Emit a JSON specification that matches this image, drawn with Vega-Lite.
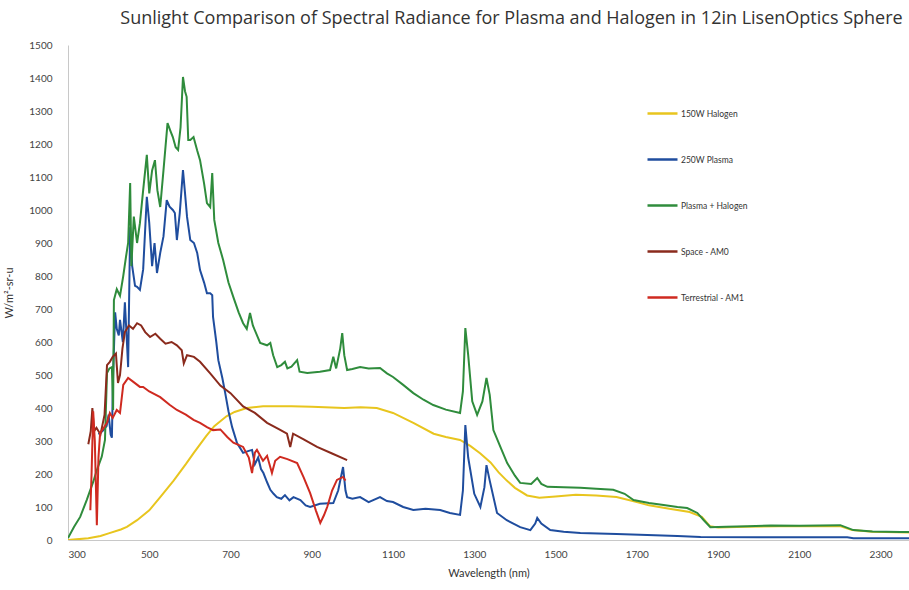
{
  "$schema": "https://vega.github.io/schema/vega-lite/v6.json",
  "width": 841,
  "height": 495,
  "autosize": "none",
  "padding": {"left": 68, "top": 45, "right": 0, "bottom": 50},
  "background": "white",
  "config": {"view": {"stroke": null}, "font": "Lato"},
  "title": {"text": "Sunlight Comparison  of Spectral Radiance for Plasma and Halogen in 12in LisenOptics Sphere", "fontSize": 18, "fontWeight": "normal", "color": "#333333", "font": "Open Sans", "dx": 23, "offset": 12},
  "data": {"values": [
        {"s":"150W Halogen","w":300,"v":0},{"s":"150W Halogen","w":320,"v":2},{"s":"150W Halogen","w":350,"v":5},{"s":"150W Halogen","w":380,"v":12},{"s":"150W Halogen","w":400,"v":20},{"s":"150W Halogen","w":430,"v":32},{"s":"150W Halogen","w":445,"v":40},{"s":"150W Halogen","w":470,"v":60},{"s":"150W Halogen","w":500,"v":90},{"s":"150W Halogen","w":527,"v":130},{"s":"150W Halogen","w":560,"v":180},{"s":"150W Halogen","w":590,"v":230},{"s":"150W Halogen","w":610,"v":265},{"s":"150W Halogen","w":640,"v":315},{"s":"150W Halogen","w":660,"v":345},{"s":"150W Halogen","w":690,"v":375},{"s":"150W Halogen","w":710,"v":388},{"s":"150W Halogen","w":740,"v":400},{"s":"150W Halogen","w":780,"v":405},{"s":"150W Halogen","w":850,"v":405},{"s":"150W Halogen","w":900,"v":404},{"s":"150W Halogen","w":980,"v":400},{"s":"150W Halogen","w":1020,"v":402},{"s":"150W Halogen","w":1060,"v":400},{"s":"150W Halogen","w":1100,"v":385},{"s":"150W Halogen","w":1150,"v":355},{"s":"150W Halogen","w":1200,"v":322},{"s":"150W Halogen","w":1230,"v":312},{"s":"150W Halogen","w":1265,"v":303},{"s":"150W Halogen","w":1290,"v":285},{"s":"150W Halogen","w":1315,"v":262},{"s":"150W Halogen","w":1340,"v":235},{"s":"150W Halogen","w":1360,"v":205},{"s":"150W Halogen","w":1380,"v":180},{"s":"150W Halogen","w":1400,"v":158},{"s":"150W Halogen","w":1430,"v":135},{"s":"150W Halogen","w":1460,"v":128},{"s":"150W Halogen","w":1500,"v":132},{"s":"150W Halogen","w":1550,"v":137},{"s":"150W Halogen","w":1600,"v":135},{"s":"150W Halogen","w":1650,"v":130},{"s":"150W Halogen","w":1700,"v":115},{"s":"150W Halogen","w":1730,"v":105},{"s":"150W Halogen","w":1780,"v":95},{"s":"150W Halogen","w":1830,"v":85},{"s":"150W Halogen","w":1860,"v":70},{"s":"150W Halogen","w":1880,"v":42},{"s":"150W Halogen","w":1900,"v":38},{"s":"150W Halogen","w":1970,"v":40},{"s":"150W Halogen","w":2050,"v":42},{"s":"150W Halogen","w":2200,"v":42},{"s":"150W Halogen","w":2230,"v":30},{"s":"150W Halogen","w":2280,"v":25},{"s":"150W Halogen","w":2370,"v":23},

        {"s":"250W Plasma","w":375,"v":320},{"s":"250W Plasma","w":385,"v":330},{"s":"250W Plasma","w":395,"v":345},{"s":"250W Plasma","w":400,"v":380},{"s":"250W Plasma","w":405,"v":320},{"s":"250W Plasma","w":408,"v":310},{"s":"250W Plasma","w":411,"v":500},{"s":"250W Plasma","w":416,"v":690},{"s":"250W Plasma","w":420,"v":640},{"s":"250W Plasma","w":425,"v":620},{"s":"250W Plasma","w":428,"v":667},{"s":"250W Plasma","w":435,"v":600},{"s":"250W Plasma","w":440,"v":720},{"s":"250W Plasma","w":445,"v":600},{"s":"250W Plasma","w":448,"v":524},{"s":"250W Plasma","w":453,"v":948},{"s":"250W Plasma","w":458,"v":830},{"s":"250W Plasma","w":465,"v":770},{"s":"250W Plasma","w":470,"v":767},{"s":"250W Plasma","w":477,"v":758},{"s":"250W Plasma","w":485,"v":820},{"s":"250W Plasma","w":494,"v":1040},{"s":"250W Plasma","w":500,"v":960},{"s":"250W Plasma","w":507,"v":830},{"s":"250W Plasma","w":513,"v":900},{"s":"250W Plasma","w":519,"v":809},{"s":"250W Plasma","w":527,"v":870},{"s":"250W Plasma","w":535,"v":920},{"s":"250W Plasma","w":543,"v":1030},{"s":"250W Plasma","w":550,"v":1010},{"s":"250W Plasma","w":558,"v":1000},{"s":"250W Plasma","w":563,"v":991},{"s":"250W Plasma","w":568,"v":909},{"s":"250W Plasma","w":575,"v":990},{"s":"250W Plasma","w":583,"v":1121},{"s":"250W Plasma","w":588,"v":1051},{"s":"250W Plasma","w":593,"v":979},{"s":"250W Plasma","w":601,"v":909},{"s":"250W Plasma","w":610,"v":900},{"s":"250W Plasma","w":618,"v":870},{"s":"250W Plasma","w":625,"v":818},{"s":"250W Plasma","w":635,"v":780},{"s":"250W Plasma","w":642,"v":748},{"s":"250W Plasma","w":650,"v":748},{"s":"250W Plasma","w":655,"v":742},{"s":"250W Plasma","w":657,"v":676},{"s":"250W Plasma","w":665,"v":600},{"s":"250W Plasma","w":670,"v":545},{"s":"250W Plasma","w":680,"v":490},{"s":"250W Plasma","w":687,"v":445},{"s":"250W Plasma","w":695,"v":390},{"s":"250W Plasma","w":704,"v":342},{"s":"250W Plasma","w":716,"v":294},{"s":"250W Plasma","w":731,"v":264},{"s":"250W Plasma","w":745,"v":270},{"s":"250W Plasma","w":753,"v":273},{"s":"250W Plasma","w":760,"v":230},{"s":"250W Plasma","w":768,"v":250},{"s":"250W Plasma","w":775,"v":215},{"s":"250W Plasma","w":781,"v":203},{"s":"250W Plasma","w":790,"v":175},{"s":"250W Plasma","w":798,"v":152},{"s":"250W Plasma","w":806,"v":140},{"s":"250W Plasma","w":814,"v":130},{"s":"250W Plasma","w":825,"v":125},{"s":"250W Plasma","w":834,"v":136},{"s":"250W Plasma","w":845,"v":120},{"s":"250W Plasma","w":855,"v":130},{"s":"250W Plasma","w":872,"v":121},{"s":"250W Plasma","w":885,"v":105},{"s":"250W Plasma","w":896,"v":100},{"s":"250W Plasma","w":920,"v":110},{"s":"250W Plasma","w":953,"v":112},{"s":"250W Plasma","w":965,"v":150},{"s":"250W Plasma","w":977,"v":221},{"s":"250W Plasma","w":983,"v":150},{"s":"250W Plasma","w":987,"v":130},{"s":"250W Plasma","w":1000,"v":125},{"s":"250W Plasma","w":1019,"v":130},{"s":"250W Plasma","w":1040,"v":115},{"s":"250W Plasma","w":1068,"v":130},{"s":"250W Plasma","w":1085,"v":118},{"s":"250W Plasma","w":1100,"v":115},{"s":"250W Plasma","w":1125,"v":100},{"s":"250W Plasma","w":1150,"v":91},{"s":"250W Plasma","w":1180,"v":95},{"s":"250W Plasma","w":1216,"v":91},{"s":"250W Plasma","w":1240,"v":82},{"s":"250W Plasma","w":1265,"v":76},{"s":"250W Plasma","w":1272,"v":150},{"s":"250W Plasma","w":1278,"v":348},{"s":"250W Plasma","w":1285,"v":250},{"s":"250W Plasma","w":1300,"v":140},{"s":"250W Plasma","w":1315,"v":100},{"s":"250W Plasma","w":1325,"v":160},{"s":"250W Plasma","w":1330,"v":227},{"s":"250W Plasma","w":1338,"v":180},{"s":"250W Plasma","w":1356,"v":82},{"s":"250W Plasma","w":1380,"v":60},{"s":"250W Plasma","w":1413,"v":39},{"s":"250W Plasma","w":1438,"v":30},{"s":"250W Plasma","w":1450,"v":50},{"s":"250W Plasma","w":1455,"v":67},{"s":"250W Plasma","w":1465,"v":50},{"s":"250W Plasma","w":1487,"v":30},{"s":"250W Plasma","w":1520,"v":25},{"s":"250W Plasma","w":1561,"v":21},{"s":"250W Plasma","w":1650,"v":18},{"s":"250W Plasma","w":1726,"v":15},{"s":"250W Plasma","w":1800,"v":12},{"s":"250W Plasma","w":1857,"v":9},{"s":"250W Plasma","w":2000,"v":8},{"s":"250W Plasma","w":2218,"v":8},{"s":"250W Plasma","w":2233,"v":5},{"s":"250W Plasma","w":2370,"v":5},

        {"s":"Plasma + Halogen","w":300,"v":6},{"s":"Plasma + Halogen","w":315,"v":40},{"s":"Plasma + Halogen","w":330,"v":70},{"s":"Plasma + Halogen","w":346,"v":121},{"s":"Plasma + Halogen","w":362,"v":176},{"s":"Plasma + Halogen","w":371,"v":212},{"s":"Plasma + Halogen","w":383,"v":252},{"s":"Plasma + Halogen","w":391,"v":303},{"s":"Plasma + Halogen","w":396,"v":506},{"s":"Plasma + Halogen","w":402,"v":520},{"s":"Plasma + Halogen","w":408,"v":524},{"s":"Plasma + Halogen","w":411,"v":394},{"s":"Plasma + Halogen","w":413,"v":727},{"s":"Plasma + Halogen","w":420,"v":760},{"s":"Plasma + Halogen","w":428,"v":740},{"s":"Plasma + Halogen","w":436,"v":800},{"s":"Plasma + Halogen","w":443,"v":860},{"s":"Plasma + Halogen","w":448,"v":900},{"s":"Plasma + Halogen","w":453,"v":1082},{"s":"Plasma + Halogen","w":456,"v":830},{"s":"Plasma + Halogen","w":462,"v":980},{"s":"Plasma + Halogen","w":470,"v":900},{"s":"Plasma + Halogen","w":477,"v":960},{"s":"Plasma + Halogen","w":485,"v":1060},{"s":"Plasma + Halogen","w":494,"v":1167},{"s":"Plasma + Halogen","w":500,"v":1050},{"s":"Plasma + Halogen","w":507,"v":1120},{"s":"Plasma + Halogen","w":514,"v":1151},{"s":"Plasma + Halogen","w":520,"v":1060},{"s":"Plasma + Halogen","w":527,"v":1009},{"s":"Plasma + Halogen","w":535,"v":1120},{"s":"Plasma + Halogen","w":545,"v":1263},{"s":"Plasma + Halogen","w":552,"v":1240},{"s":"Plasma + Halogen","w":558,"v":1221},{"s":"Plasma + Halogen","w":565,"v":1190},{"s":"Plasma + Halogen","w":571,"v":1182},{"s":"Plasma + Halogen","w":577,"v":1250},{"s":"Plasma + Halogen","w":583,"v":1403},{"s":"Plasma + Halogen","w":588,"v":1360},{"s":"Plasma + Halogen","w":592,"v":1343},{"s":"Plasma + Halogen","w":596,"v":1212},{"s":"Plasma + Halogen","w":601,"v":1212},{"s":"Plasma + Halogen","w":609,"v":1221},{"s":"Plasma + Halogen","w":618,"v":1180},{"s":"Plasma + Halogen","w":625,"v":1151},{"s":"Plasma + Halogen","w":635,"v":1080},{"s":"Plasma + Halogen","w":642,"v":1021},{"s":"Plasma + Halogen","w":650,"v":1009},{"s":"Plasma + Halogen","w":655,"v":1112},{"s":"Plasma + Halogen","w":660,"v":970},{"s":"Plasma + Halogen","w":670,"v":900},{"s":"Plasma + Halogen","w":682,"v":848},{"s":"Plasma + Halogen","w":695,"v":780},{"s":"Plasma + Halogen","w":707,"v":736},{"s":"Plasma + Halogen","w":720,"v":690},{"s":"Plasma + Halogen","w":731,"v":657},{"s":"Plasma + Halogen","w":740,"v":640},{"s":"Plasma + Halogen","w":748,"v":688},{"s":"Plasma + Halogen","w":755,"v":650},{"s":"Plasma + Halogen","w":773,"v":597},{"s":"Plasma + Halogen","w":790,"v":590},{"s":"Plasma + Halogen","w":798,"v":597},{"s":"Plasma + Halogen","w":805,"v":560},{"s":"Plasma + Halogen","w":815,"v":524},{"s":"Plasma + Halogen","w":825,"v":530},{"s":"Plasma + Halogen","w":834,"v":540},{"s":"Plasma + Halogen","w":840,"v":520},{"s":"Plasma + Halogen","w":850,"v":525},{"s":"Plasma + Halogen","w":864,"v":545},{"s":"Plasma + Halogen","w":870,"v":510},{"s":"Plasma + Halogen","w":889,"v":506},{"s":"Plasma + Halogen","w":920,"v":510},{"s":"Plasma + Halogen","w":945,"v":515},{"s":"Plasma + Halogen","w":953,"v":555},{"s":"Plasma + Halogen","w":960,"v":520},{"s":"Plasma + Halogen","w":970,"v":580},{"s":"Plasma + Halogen","w":975,"v":627},{"s":"Plasma + Halogen","w":980,"v":560},{"s":"Plasma + Halogen","w":987,"v":515},{"s":"Plasma + Halogen","w":1000,"v":518},{"s":"Plasma + Halogen","w":1019,"v":524},{"s":"Plasma + Halogen","w":1040,"v":520},{"s":"Plasma + Halogen","w":1068,"v":521},{"s":"Plasma + Halogen","w":1085,"v":505},{"s":"Plasma + Halogen","w":1100,"v":494},{"s":"Plasma + Halogen","w":1125,"v":470},{"s":"Plasma + Halogen","w":1150,"v":445},{"s":"Plasma + Halogen","w":1175,"v":425},{"s":"Plasma + Halogen","w":1199,"v":409},{"s":"Plasma + Halogen","w":1230,"v":395},{"s":"Plasma + Halogen","w":1265,"v":385},{"s":"Plasma + Halogen","w":1272,"v":450},{"s":"Plasma + Halogen","w":1278,"v":642},{"s":"Plasma + Halogen","w":1285,"v":560},{"s":"Plasma + Halogen","w":1295,"v":420},{"s":"Plasma + Halogen","w":1307,"v":379},{"s":"Plasma + Halogen","w":1320,"v":420},{"s":"Plasma + Halogen","w":1330,"v":491},{"s":"Plasma + Halogen","w":1338,"v":440},{"s":"Plasma + Halogen","w":1347,"v":333},{"s":"Plasma + Halogen","w":1365,"v":280},{"s":"Plasma + Halogen","w":1381,"v":233},{"s":"Plasma + Halogen","w":1400,"v":195},{"s":"Plasma + Halogen","w":1413,"v":173},{"s":"Plasma + Halogen","w":1440,"v":170},{"s":"Plasma + Halogen","w":1455,"v":188},{"s":"Plasma + Halogen","w":1465,"v":170},{"s":"Plasma + Halogen","w":1480,"v":161},{"s":"Plasma + Halogen","w":1520,"v":160},{"s":"Plasma + Halogen","w":1561,"v":158},{"s":"Plasma + Halogen","w":1600,"v":155},{"s":"Plasma + Halogen","w":1642,"v":152},{"s":"Plasma + Halogen","w":1670,"v":140},{"s":"Plasma + Halogen","w":1692,"v":121},{"s":"Plasma + Halogen","w":1730,"v":112},{"s":"Plasma + Halogen","w":1766,"v":106},{"s":"Plasma + Halogen","w":1800,"v":100},{"s":"Plasma + Halogen","w":1824,"v":97},{"s":"Plasma + Halogen","w":1849,"v":82},{"s":"Plasma + Halogen","w":1865,"v":60},{"s":"Plasma + Halogen","w":1881,"v":39},{"s":"Plasma + Halogen","w":1920,"v":40},{"s":"Plasma + Halogen","w":1972,"v":42},{"s":"Plasma + Halogen","w":2030,"v":44},{"s":"Plasma + Halogen","w":2100,"v":43},{"s":"Plasma + Halogen","w":2201,"v":45},{"s":"Plasma + Halogen","w":2233,"v":30},{"s":"Plasma + Halogen","w":2280,"v":26},{"s":"Plasma + Halogen","w":2349,"v":24},{"s":"Plasma + Halogen","w":2370,"v":24},

        {"s":"Space - AM0","w":350,"v":290},{"s":"Space - AM0","w":356,"v":330},{"s":"Space - AM0","w":360,"v":400},{"s":"Space - AM0","w":364,"v":330},{"s":"Space - AM0","w":370,"v":340},{"s":"Space - AM0","w":380,"v":320},{"s":"Space - AM0","w":390,"v":380},{"s":"Space - AM0","w":396,"v":530},{"s":"Space - AM0","w":403,"v":540},{"s":"Space - AM0","w":410,"v":555},{"s":"Space - AM0","w":418,"v":565},{"s":"Space - AM0","w":423,"v":476},{"s":"Space - AM0","w":428,"v":500},{"s":"Space - AM0","w":434,"v":580},{"s":"Space - AM0","w":440,"v":630},{"s":"Space - AM0","w":450,"v":650},{"s":"Space - AM0","w":460,"v":640},{"s":"Space - AM0","w":470,"v":657},{"s":"Space - AM0","w":480,"v":650},{"s":"Space - AM0","w":490,"v":630},{"s":"Space - AM0","w":502,"v":615},{"s":"Space - AM0","w":515,"v":625},{"s":"Space - AM0","w":527,"v":610},{"s":"Space - AM0","w":540,"v":595},{"s":"Space - AM0","w":555,"v":600},{"s":"Space - AM0","w":568,"v":590},{"s":"Space - AM0","w":580,"v":575},{"s":"Space - AM0","w":585,"v":535},{"s":"Space - AM0","w":593,"v":560},{"s":"Space - AM0","w":610,"v":555},{"s":"Space - AM0","w":625,"v":540},{"s":"Space - AM0","w":650,"v":505},{"s":"Space - AM0","w":675,"v":468},{"s":"Space - AM0","w":700,"v":445},{"s":"Space - AM0","w":731,"v":405},{"s":"Space - AM0","w":760,"v":385},{"s":"Space - AM0","w":790,"v":355},{"s":"Space - AM0","w":820,"v":335},{"s":"Space - AM0","w":839,"v":322},{"s":"Space - AM0","w":847,"v":282},{"s":"Space - AM0","w":854,"v":322},{"s":"Space - AM0","w":880,"v":305},{"s":"Space - AM0","w":913,"v":282},{"s":"Space - AM0","w":950,"v":262},{"s":"Space - AM0","w":987,"v":242},

        {"s":"Terrestrial - AM1","w":355,"v":90},{"s":"Terrestrial - AM1","w":358,"v":200},{"s":"Terrestrial - AM1","w":362,"v":390},{"s":"Terrestrial - AM1","w":366,"v":300},{"s":"Terrestrial - AM1","w":371,"v":45},{"s":"Terrestrial - AM1","w":375,"v":250},{"s":"Terrestrial - AM1","w":379,"v":324},{"s":"Terrestrial - AM1","w":388,"v":340},{"s":"Terrestrial - AM1","w":396,"v":355},{"s":"Terrestrial - AM1","w":403,"v":385},{"s":"Terrestrial - AM1","w":410,"v":370},{"s":"Terrestrial - AM1","w":420,"v":394},{"s":"Terrestrial - AM1","w":428,"v":385},{"s":"Terrestrial - AM1","w":436,"v":470},{"s":"Terrestrial - AM1","w":448,"v":491},{"s":"Terrestrial - AM1","w":460,"v":480},{"s":"Terrestrial - AM1","w":477,"v":464},{"s":"Terrestrial - AM1","w":485,"v":464},{"s":"Terrestrial - AM1","w":500,"v":450},{"s":"Terrestrial - AM1","w":527,"v":433},{"s":"Terrestrial - AM1","w":550,"v":410},{"s":"Terrestrial - AM1","w":568,"v":394},{"s":"Terrestrial - AM1","w":590,"v":380},{"s":"Terrestrial - AM1","w":609,"v":364},{"s":"Terrestrial - AM1","w":625,"v":355},{"s":"Terrestrial - AM1","w":642,"v":342},{"s":"Terrestrial - AM1","w":657,"v":333},{"s":"Terrestrial - AM1","w":675,"v":335},{"s":"Terrestrial - AM1","w":692,"v":312},{"s":"Terrestrial - AM1","w":707,"v":295},{"s":"Terrestrial - AM1","w":731,"v":282},{"s":"Terrestrial - AM1","w":745,"v":250},{"s":"Terrestrial - AM1","w":753,"v":203},{"s":"Terrestrial - AM1","w":760,"v":265},{"s":"Terrestrial - AM1","w":765,"v":273},{"s":"Terrestrial - AM1","w":780,"v":240},{"s":"Terrestrial - AM1","w":790,"v":255},{"s":"Terrestrial - AM1","w":802,"v":203},{"s":"Terrestrial - AM1","w":810,"v":240},{"s":"Terrestrial - AM1","w":822,"v":252},{"s":"Terrestrial - AM1","w":840,"v":245},{"s":"Terrestrial - AM1","w":864,"v":233},{"s":"Terrestrial - AM1","w":880,"v":190},{"s":"Terrestrial - AM1","w":896,"v":142},{"s":"Terrestrial - AM1","w":910,"v":90},{"s":"Terrestrial - AM1","w":921,"v":52},{"s":"Terrestrial - AM1","w":930,"v":75},{"s":"Terrestrial - AM1","w":938,"v":100},{"s":"Terrestrial - AM1","w":950,"v":150},{"s":"Terrestrial - AM1","w":962,"v":182},{"s":"Terrestrial - AM1","w":977,"v":191},{"s":"Terrestrial - AM1","w":983,"v":180}
  ]},
  "mark": {"type": "line", "strokeWidth": 2, "clip": true},
  "encoding": {
    "x": {"field": "w", "type": "quantitative", "scale": {"domain": [300, 2370], "nice": false, "zero": false},
      "axis": {"values": [300,500,700,900,1100,1300,1500,1700,1900,2100,2300], "format": "d", "grid": false, "ticks": false, "domainColor": "#c8c8c8", "labelFontSize": 10, "labelColor": "#444444", "labelPadding": 9, "labelFont": "Lato", "title": "Wavelength (nm)", "titleFontSize": 11, "titleFontWeight": "normal", "titleColor": "#333333", "titleFont": "Lato", "titlePadding": 8}},
    "y": {"field": "v", "type": "quantitative", "scale": {"domain": [0, 1500], "nice": false},
      "axis": {"values": [0,100,200,300,400,500,600,700,800,900,1000,1100,1200,1300,1400,1500], "format": "d", "grid": false, "ticks": false, "domainColor": "#c8c8c8", "labelFontSize": 10, "labelColor": "#444444", "labelPadding": 16, "labelFont": "Lato", "title": "W/m²-sr-u", "titleFontSize": 11, "titleFontWeight": "normal", "titleColor": "#333333", "titleFont": "Lato", "titlePadding": 14}},
    "color": {"field": "s", "type": "nominal",
      "scale": {"domain": ["150W Halogen", "250W Plasma", "Plasma + Halogen", "Space - AM0", "Terrestrial - AM1"], "range": ["#e8c51e", "#1f4d9e", "#2f8c3c", "#8a2a1c", "#cf2a20"]},
      "legend": {"title": null, "orient": "none", "legendX": 578, "legendY": 52, "symbolType": "stroke", "symbolSize": 900, "symbolStrokeWidth": 2.5, "labelFontSize": 8.5, "labelColor": "#333333", "labelFont": "Lato", "rowPadding": 24, "labelOffset": 2}}
  }
}
